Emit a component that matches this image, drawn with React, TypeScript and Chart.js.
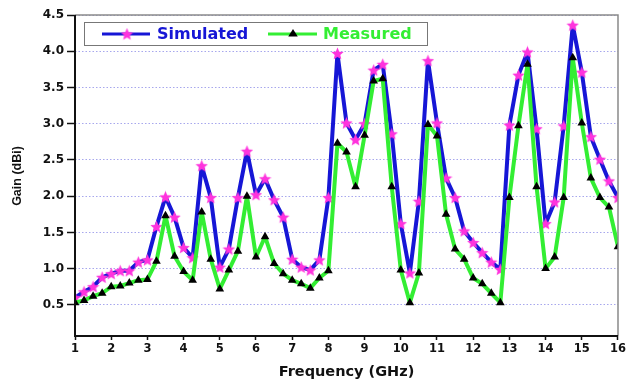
import { useEffect, useRef } from 'react';
import { Chart, registerables } from 'chart.js';

Chart.register(...registerables);

const frequencies = [
  1, 1.25, 1.5, 1.75, 2, 2.25, 2.5, 2.75, 3, 3.25, 3.5, 3.75, 4, 4.25, 4.5, 4.75,
  5, 5.25, 5.5, 5.75, 6, 6.25, 6.5, 6.75, 7, 7.25, 7.5, 7.75, 8, 8.25, 8.5, 8.75,
  9, 9.25, 9.5, 9.75, 10, 10.25, 10.5, 10.75, 11, 11.25, 11.5, 11.75, 12, 12.25, 12.5, 12.75,
  13, 13.25, 13.5, 13.75, 14, 14.25, 14.5, 14.75, 15, 15.25, 15.5, 15.75, 16,
];

const simulated = [
  0.6, 0.68, 0.75, 0.88, 0.93, 0.97, 0.97, 1.09, 1.12, 1.58, 1.99, 1.71, 1.29, 1.15, 2.42, 1.98,
  1.02, 1.27, 1.98, 2.62, 2.02, 2.24, 1.95, 1.71, 1.13, 1.02, 0.98, 1.12, 1.98, 3.97, 3.01, 2.78,
  3.0, 3.74, 3.82, 2.86, 1.62, 0.94, 1.93, 3.87, 3.01, 2.25, 1.98, 1.52, 1.36, 1.22, 1.09, 0.99,
  2.98, 3.67, 3.99, 2.93, 1.62, 1.92, 2.97, 4.36, 3.71, 2.82, 2.51, 2.21, 1.98,
];

const measured = [
  0.53, 0.56, 0.62, 0.66, 0.75, 0.76, 0.8, 0.84, 0.85, 1.1, 1.73, 1.17, 0.96, 0.84, 1.78, 1.13,
  0.72, 0.98, 1.24, 2.0, 1.16, 1.44, 1.07, 0.93, 0.84, 0.79, 0.73, 0.87, 0.97, 2.73, 2.61, 2.13,
  2.84, 3.59, 3.62, 2.13, 0.98, 0.53, 0.94, 2.99, 2.83, 1.75, 1.27, 1.13, 0.87, 0.79, 0.66, 0.53,
  1.98, 2.97, 3.82, 2.13, 1.0, 1.16, 1.98, 3.91, 3.01, 2.25, 1.98, 1.85, 1.3,
];

const xTickValues = [1, 2, 3, 4, 5, 6, 7, 8, 9, 10, 11, 12, 13, 14, 15, 16];
const yTickValues = [0.5, 1.0, 1.5, 2.0, 2.5, 3.0, 3.5, 4.0, 4.5];

const seriesNames = ['Simulated', 'Measured'];
const xTitle = 'Frequency (GHz)';
const yTitle = 'Gain (dBi)';

const BLUE = '#1616d6';
const GREEN = '#33ee33';
const PINK = '#ff33dd';

function makeStar(size: number, color: string) {
  const c = document.createElement('canvas');
  c.width = size;
  c.height = size;
  const ctx = c.getContext('2d')!;
  const cx = size / 2;
  const cy = size / 2;
  const R = size / 2;
  const r = R * 0.45;
  ctx.beginPath();
  for (let i = 0; i < 10; i++) {
    const rad = i % 2 === 0 ? R : r;
    const a = -Math.PI / 2 + (i * Math.PI) / 5;
    const px = cx + rad * Math.cos(a);
    const py = cy + rad * Math.sin(a) + 0.5;
    if (i === 0) ctx.moveTo(px, py);
    else ctx.lineTo(px, py);
  }
  ctx.closePath();
  ctx.fillStyle = color;
  ctx.fill();
  return c;
}

function drawStarAt(ctx: CanvasRenderingContext2D, img: HTMLCanvasElement, x: number, y: number) {
  ctx.drawImage(img, x - img.width / 2, y - img.height / 2);
}

function drawTriangle(ctx: CanvasRenderingContext2D, x: number, y: number, r: number) {
  const h = r * 1.5;
  ctx.beginPath();
  ctx.moveTo(x, y - r);
  ctx.lineTo(x + r * 0.95, y + h - r);
  ctx.lineTo(x - r * 0.95, y + h - r);
  ctx.closePath();
  ctx.fillStyle = '#000';
  ctx.fill();
}

export default function App() {
  const ref = useRef<HTMLCanvasElement>(null);

  useEffect(() => {
    document.body.style.margin = '0';
    const star = makeStar(13, PINK);

    const overlay = {
      id: 'overlay',
      afterDraw(chart: any) {
        const ctx: CanvasRenderingContext2D = chart.ctx;
        const { left, right, top, bottom } = chart.chartArea;
        ctx.save();
        // frame
        ctx.strokeStyle = '#8a8a8a';
        ctx.lineWidth = 1.5;
        ctx.beginPath();
        ctx.moveTo(left, top);
        ctx.lineTo(right, top);
        ctx.lineTo(right, bottom);
        ctx.stroke();
        ctx.strokeStyle = '#111';
        ctx.lineWidth = 2;
        ctx.beginPath();
        ctx.moveTo(left, top);
        ctx.lineTo(left, bottom);
        ctx.lineTo(right, bottom);
        ctx.stroke();

        // legend box
        const bx = 84, by = 22, bw = 343, bh = 23;
        ctx.fillStyle = '#fff';
        ctx.fillRect(bx, by, bw, bh);
        ctx.strokeStyle = '#777';
        ctx.lineWidth = 1;
        ctx.strokeRect(bx + 0.5, by + 0.5, bw, bh);
        const ly = by + bh / 2 + 0.5;
        ctx.lineWidth = 3;
        ctx.strokeStyle = BLUE;
        ctx.beginPath();
        ctx.moveTo(102, ly);
        ctx.lineTo(150, ly);
        ctx.stroke();
        drawStarAt(ctx, star, 127, ly);
        ctx.strokeStyle = GREEN;
        ctx.beginPath();
        ctx.moveTo(268, ly);
        ctx.lineTo(317, ly);
        ctx.stroke();
        drawTriangle(ctx, 293, ly, 5);
        ctx.font = 'bold 16px "DejaVu Sans"';
        ctx.textBaseline = 'middle';
        ctx.textAlign = 'left';
        ctx.fillStyle = BLUE;
        ctx.fillText(seriesNames[0], 157, ly + 1);
        ctx.fillStyle = GREEN;
        ctx.fillText(seriesNames[1], 323, ly + 1);

        // axis titles
        ctx.fillStyle = '#111';
        ctx.font = 'bold 14.5px "DejaVu Sans"';
        ctx.textAlign = 'center';
        ctx.textBaseline = 'middle';
        ctx.fillText(xTitle, (left + right) / 2, 372);
        ctx.save();
        ctx.translate(21, 176);
        ctx.rotate(-Math.PI / 2);
        ctx.font = 'bold 12.5px "Liberation Sans"';
        ctx.textBaseline = 'alphabetic';
        ctx.fillText(yTitle, 0, 0);
        ctx.restore();
        ctx.restore();
      },
    };

    const chart = new Chart(ref.current!, {
      type: 'line',
      data: {
        datasets: [
          {
            label: seriesNames[0],
            data: frequencies.map((f, i) => ({ x: f, y: simulated[i] })),
            borderColor: BLUE,
            borderWidth: 4,
            borderJoinStyle: 'round',
            pointStyle: star as any,
            pointRadius: 6,
            tension: 0,
            order: 1,
          },
          {
            label: seriesNames[1],
            data: frequencies.map((f, i) => ({ x: f, y: measured[i] })),
            borderColor: GREEN,
            borderWidth: 4,
            borderJoinStyle: 'round',
            pointStyle: 'triangle',
            pointRadius: 5,
            pointBackgroundColor: '#000',
            pointBorderColor: '#000',
            pointBorderWidth: 0,
            tension: 0,
            order: 0,
          },
        ],
      },
      options: {
        responsive: false,
        animation: false,
        layout: { padding: { top: 15, right: 7, left: 0, bottom: 0 } },
        plugins: { legend: { display: false }, tooltip: { enabled: false } },
        scales: {
          x: {
            type: 'linear',
            min: 1,
            max: 16,
            afterBuildTicks: (axis: any) => {
              axis.ticks = xTickValues.map((v) => ({ value: v }));
            },
            afterFit: (s: any) => {
              s.height = 46;
            },
            grid: {
              drawOnChartArea: false,
              tickLength: 4,
              tickColor: '#111',
              tickWidth: 1.5,
            },
            border: { display: false },
            ticks: {
              font: { family: 'DejaVu Sans', weight: 'bold', size: 11.5 },
              color: '#111',
              padding: 2,
              maxRotation: 0,
              autoSkip: false,
            },
          },
          y: {
            min: 0.07,
            max: 4.5,
            afterBuildTicks: (axis: any) => {
              axis.ticks = yTickValues.map((v) => ({ value: v }));
            },
            afterFit: (s: any) => {
              s.width = 75;
            },
            grid: {
              color: 'rgba(130,130,230,0.7)',
              lineWidth: 1,
              tickLength: 8,
              tickColor: '#111',
              tickWidth: 1.5,
            },
            border: { display: false, dash: [1.5, 2] },
            ticks: {
              font: { family: 'DejaVu Sans', weight: 'bold', size: 12 },
              color: '#111',
              padding: 3,
              autoSkip: false,
              callback: (v: any) => Number(v).toFixed(1),
            },
          },
        },
      } as any,
      plugins: [overlay],
    });
    return () => chart.destroy();
  }, []);

  return <canvas ref={ref} width={628} height={382} style={{ display: 'block' }} />;
}
